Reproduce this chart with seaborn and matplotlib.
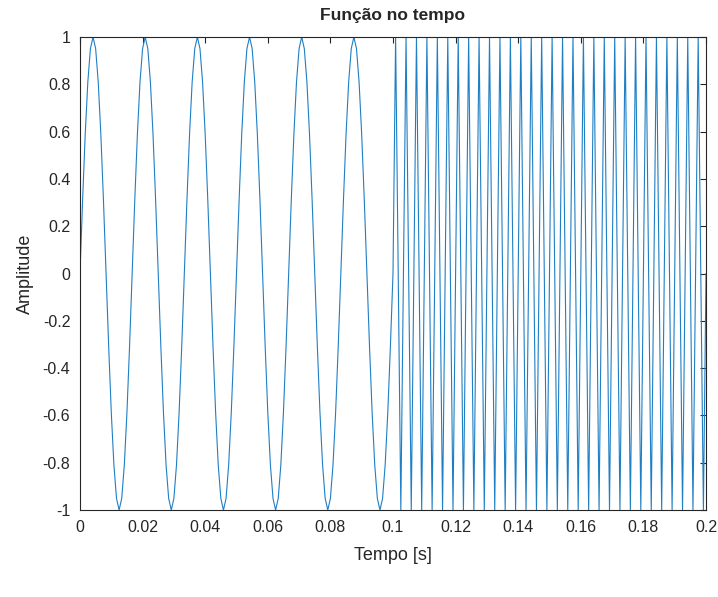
import numpy as np
import pandas as pd
import matplotlib
matplotlib.use('Agg')
import matplotlib.pyplot as plt
import seaborn as sns

# Signal description
segment_start = [0.0, 0.1]      # s
segment_end = [0.1, 0.2]        # s
segment_freq = [60, 300]        # Hz
sample_rate = 1200              # Hz
x_ticks = [0, 0.02, 0.04, 0.06, 0.08, 0.1, 0.12, 0.14, 0.16, 0.18, 0.2]
y_ticks = [-1, -0.8, -0.6, -0.4, -0.2, 0, 0.2, 0.4, 0.6, 0.8, 1]

# Build the sampled signal
parts = []
for t0, t1, f in zip(segment_start, segment_end, segment_freq):
    t = np.arange(round(t0 * sample_rate), round(t1 * sample_rate)) / sample_rate
    parts.append(pd.DataFrame({'t': t, 'y': np.sin(2 * np.pi * f * t)}))
df = pd.concat(parts, ignore_index=True)
last_t = segment_end[-1]
df.loc[len(df)] = [last_t, np.sin(2 * np.pi * segment_freq[-1] * last_t)]

sns.set_style('white')
plt.rcParams['font.family'] = ['Liberation Sans', 'DejaVu Sans']

fig = plt.figure(figsize=(7.18, 5.97), dpi=100)
ax = fig.add_axes([0.1114, 0.1457, 0.8719, 0.7923])
sns.lineplot(data=df, x='t', y='y', ax=ax, color='#1f7fc4', linewidth=0.8,
             estimator=None, sort=False)

ax.set_xlim(0, 0.2)
ax.set_ylim(-1, 1)
ax.set_xticks(x_ticks)
ax.set_xticklabels([f'{v:g}' for v in x_ticks])
ax.set_yticks(y_ticks)
ax.set_yticklabels([f'{v:g}' for v in y_ticks])
ax.tick_params(direction='in', length=4, width=0.8, colors='#262626',
               labelsize=11.5, top=True, right=True, pad=7)
for s in ax.spines.values():
    s.set_color('#262626')
    s.set_linewidth(0.8)

ax.set_title('Função no tempo', fontsize=12.5, fontweight='bold', pad=12)
ax.set_xlabel('Tempo [s]', fontsize=13, color='#262626', labelpad=9)
ax.set_ylabel('Amplitude', fontsize=13, color='#262626', labelpad=6)

fig.savefig('out.png', dpi=100)
